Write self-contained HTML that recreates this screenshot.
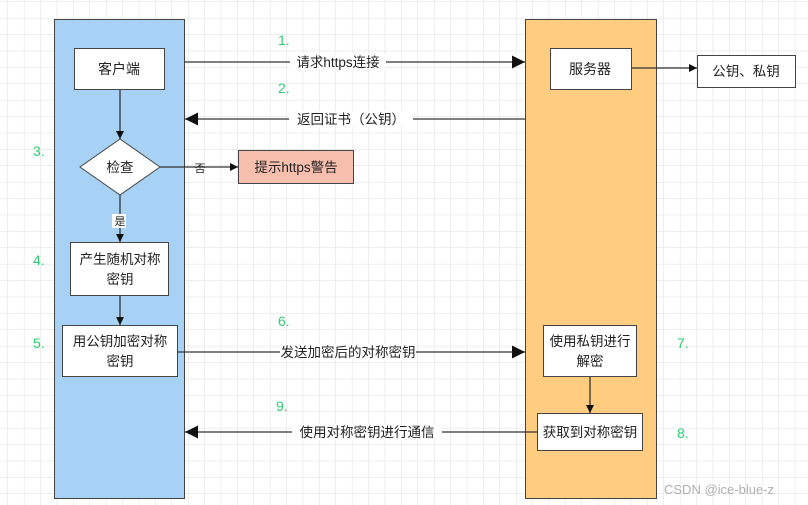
<!DOCTYPE html>
<html><head><meta charset="utf-8"><style>
html,body{margin:0;padding:0;background:#fff}
svg{display:block}
text{font-family:"Liberation Sans","Noto Sans CJK SC",sans-serif;fill:#222}
.n{fill:#2ecc71;font-size:14px}
</style></head><body>
<svg width="808" height="505" viewBox="0 0 808 505" xmlns="http://www.w3.org/2000/svg">
<defs>
<pattern id="g" x="8" y="2" width="16.4" height="16.4" patternUnits="userSpaceOnUse">
<path d="M16.4 0V16.4M0 16.4H16.4" stroke="#dedede" stroke-width="1" fill="none"/>
</pattern>
<marker id="a" viewBox="0 0 10 10" refX="10" refY="5" markerWidth="13" markerHeight="13" markerUnits="userSpaceOnUse" orient="auto"><path d="M0 0L10 5L0 10z" fill="#111"/></marker>
<marker id="s" viewBox="0 0 10 10" refX="10" refY="5" markerWidth="8" markerHeight="8" markerUnits="userSpaceOnUse" orient="auto"><path d="M0 0L10 5L0 10z" fill="#111"/></marker>
</defs>
<rect width="808" height="505" fill="url(#g)"/>
<rect x="54.5" y="19.5" width="130" height="479" fill="#a8d2f5" stroke="#444"/>
<rect x="525.5" y="19.5" width="131" height="479" fill="#ffcc80" stroke="#444"/>
<g stroke="#333" stroke-width="1.3" fill="none">
<line x1="184" y1="62" x2="525" y2="62" marker-end="url(#a)"/>
<line x1="525" y1="119" x2="185" y2="119" marker-end="url(#a)"/>
<line x1="177" y1="352" x2="525" y2="352" marker-end="url(#a)"/>
<line x1="537" y1="432" x2="185" y2="432" marker-end="url(#a)"/>
<line x1="631" y1="68" x2="697" y2="68" marker-end="url(#s)"/>
<line x1="120" y1="89" x2="120" y2="139" marker-end="url(#s)"/>
<line x1="120" y1="195" x2="120" y2="242" marker-end="url(#s)"/>
<line x1="120" y1="295" x2="120" y2="325" marker-end="url(#s)"/>
<line x1="160" y1="167" x2="238" y2="167" marker-end="url(#s)"/>
<line x1="590" y1="376" x2="590" y2="413" marker-end="url(#s)"/>
</g>
<g stroke="#444" stroke-width="1">
<rect x="74.5" y="48.5" width="90" height="41" fill="#fff"/>
<polygon points="120,139 160,167 120,195 80,167" fill="#fff"/>
<rect x="238.5" y="150.5" width="115" height="33" fill="#f8bfae"/>
<rect x="70.5" y="242.5" width="98" height="53" fill="#fff"/>
<rect x="62.5" y="325.5" width="115" height="51" fill="#fff"/>
<rect x="550.5" y="48.5" width="81" height="41" fill="#fff"/>
<rect x="697.5" y="55.5" width="98" height="32" fill="#fff"/>
<rect x="543.5" y="325.5" width="93" height="51" fill="#fff"/>
<rect x="537.5" y="413.5" width="105" height="37" fill="#fff"/>
</g>
<g font-size="13.5" text-anchor="middle">
<rect x="290" y="54" width="96" height="16" fill="#fff"/>
<text x="338" y="67">请求https连接</text>
<rect x="289" y="111" width="124" height="16" fill="#fff"/>
<text x="351" y="124">返回证书（公钥）</text>
<rect x="280" y="344" width="136" height="16" fill="#fff"/>
<text x="348" y="357">发送加密后的对称密钥</text>
<rect x="292" y="424" width="150" height="16" fill="#fff"/>
<text x="367" y="437">使用对称密钥进行通信</text>
<text x="119" y="74" font-size="14">客户端</text>
<text x="120" y="172">检查</text>
<text x="296" y="172">提示https警告</text>
<text x="200" y="172" font-size="11">否</text>
<rect x="112" y="214" width="14" height="14" fill="#fff"/>
<text x="120" y="225" font-size="11">是</text>
<text x="120" y="264">产生随机对称</text>
<text x="120" y="284">密钥</text>
<text x="120" y="346">用公钥加密对称</text>
<text x="120" y="366">密钥</text>
<text x="590" y="74" font-size="14">服务器</text>
<text x="746" y="76">公钥、私钥</text>
<text x="590" y="346">使用私钥进行</text>
<text x="590" y="366">解密</text>
<text x="590" y="437">获取到对称密钥</text>
</g>
<text class="n" x="278" y="45">1.</text>
<text class="n" x="278" y="93">2.</text>
<text class="n" x="33" y="156">3.</text>
<text class="n" x="33" y="265">4.</text>
<text class="n" x="33" y="348">5.</text>
<text class="n" x="278" y="326">6.</text>
<text class="n" x="677" y="348">7.</text>
<text class="n" x="677" y="438">8.</text>
<text class="n" x="276" y="411">9.</text>
<text x="664" y="494" font-size="13" style="fill:#b0b0b0">CSDN @ice-blue-z</text>
</svg>
</body></html>
